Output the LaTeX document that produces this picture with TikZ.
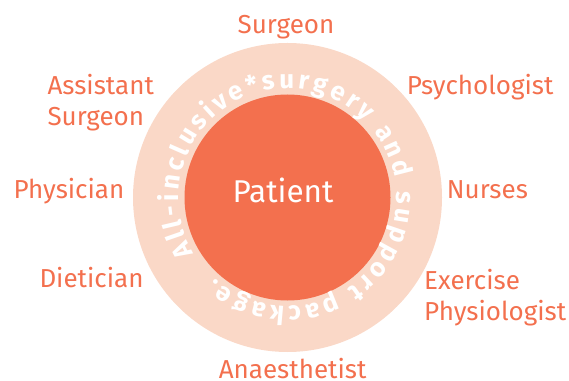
\documentclass[tikz,border=0pt]{standalone}
\usepackage{fontspec}
\setmainfont{Fira Sans}
\usetikzlibrary{decorations.text}
\definecolor{coral}{HTML}{F3704E}
\definecolor{peach}{HTML}{FAD8C7}
\tikzset{
  role/.style={inner sep=0pt, text=coral, font=\fontsize{26}{31}\selectfont, align=left},
}
\begin{document}
\begin{tikzpicture}[x=1pt,y=1pt]
\useasboundingbox (0,0) rectangle (569,380);
\coordinate (c) at (287.5,182.5);
\fill[peach] (c) circle[radius=154.5];
\fill[coral] (c) circle[radius=103];
\path[decorate, decoration={text along path, text align={fit to path},
  text={|\bfseries\fontsize{26}{26}\selectfont\color{white}|All-inclusive*surgery and support package.}}]
  (c) ++(211:109) arc[start angle=211, end angle=-132, radius=109];
\node[inner sep=0pt, text=white, font=\fontsize{31.5}{36}\selectfont, anchor=base] (patient) at (283,177.3) {Patient};
\node[role, anchor=base] (surgeon) at (286,346) {Surgeon};
\node[role, anchor=base west] (assistant) at (47.3,254) {Assistant\\Surgeon};
\node[role, anchor=base west] (physician) at (13.3,181.7) {Physician};
\node[role, anchor=base west] (dietician) at (39.3,92.7) {Dietician};
\node[role, anchor=base west] (psych) at (406.7,285.7) {Psychologist};
\node[role, anchor=base west] (nurses) at (446.7,181.7) {Nurses};
\node[role, anchor=base west] (exercise) at (424,60) {Exercise\\Physiologist};
\node[role, anchor=base] (anaes) at (292.6,1.5) {Anaesthetist};
\end{tikzpicture}
\end{document}
